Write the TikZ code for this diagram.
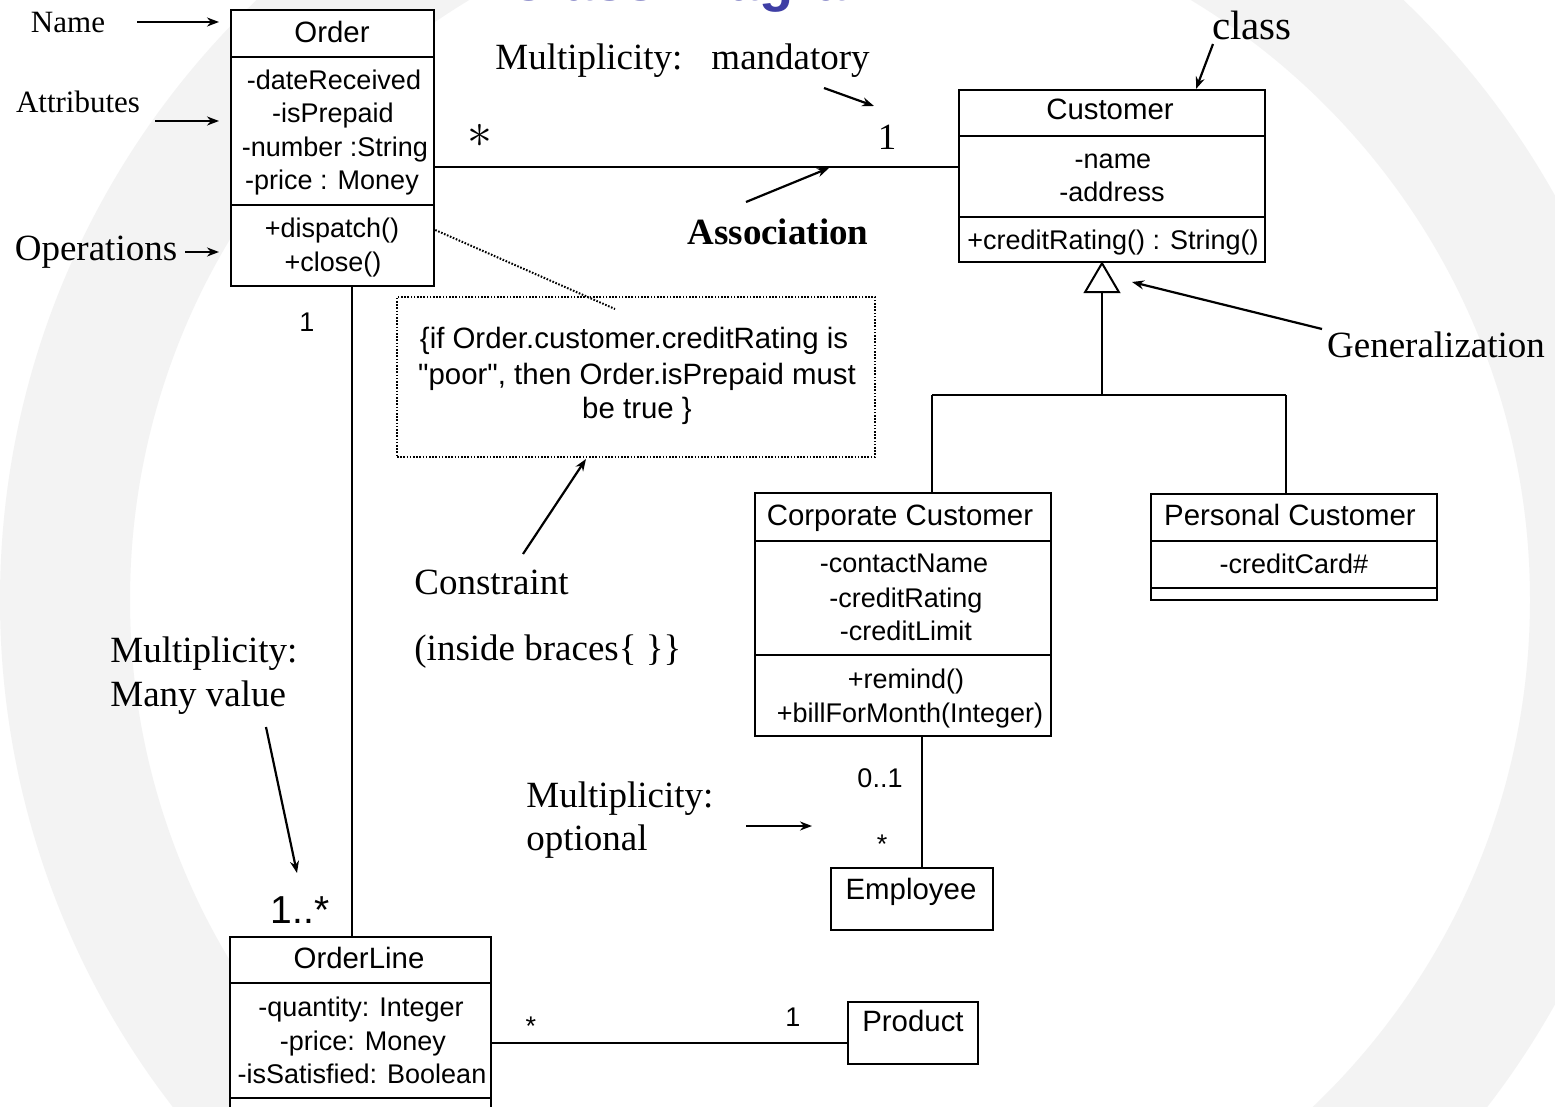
\documentclass[tikz,border=0pt]{standalone}
\usepackage{fontspec}
\setmainfont{Liberation Serif}
\setsansfont{Liberation Sans}
\usetikzlibrary{arrows.meta}

\definecolor{titleblue}{RGB}{62,62,165}
\definecolor{swirl}{RGB}{243,243,243}

\begin{document}
\begin{tikzpicture}[x=0.5pt,y=-0.5pt,
  classbox/.style={draw, line width=1.25pt, fill=white, inner sep=0pt},
  notebox/.style={draw, line width=1pt, dash pattern=on 0.8pt off 0.8pt, inner sep=0pt},
  sep/.style={line width=1.4pt},
  link/.style={line width=1pt},
  dotlink/.style={line width=1pt, dash pattern=on 0.8pt off 0.8pt},
  ptr/.style={line width=1.1pt, -{Stealth[length=6pt,width=4.5pt]}},
  sf/.style={font=\sffamily\fontsize{13.5}{16}\selectfont, inner sep=0pt, anchor=base},
  sfname/.style={sf, font=\sffamily\fontsize{14.7}{17}\selectfont},
  rm/.style={font=\fontsize{18.5}{22}\selectfont, inner sep=0pt, anchor=base},
  rmsmall/.style={font=\fontsize{15.5}{18}\selectfont, inner sep=0pt, anchor=base},
  title/.style={font=\sffamily\bfseries\fontsize{28}{32}\selectfont, text=titleblue, inner sep=0pt, anchor=base west}]

\useasboundingbox (0,0) rectangle (1555,1107);
\clip (0,0) rectangle (1555,1107);
\fill[white] (0,0) rectangle (1555,1107);

% faint swirl of the slide background
\fill[swirl, even odd rule] (830,600) circle[radius=830] (830,600) circle[radius=700];

% slide title, only its lowest part lies on the page
\node[title] (title) at (507,1) {Class Diagram};

% ---------- class boxes ----------
\node[classbox, minimum width=101.5pt, minimum height=138pt] (Order) at (332.5,148) {};
\draw[sep] (231,57) -- (434,57);
\draw[sep] (231,205) -- (434,205);

\node[classbox, minimum width=153pt, minimum height=86pt] (Customer) at (1112,176) {};
\draw[sep] (959,136) -- (1265,136);
\draw[sep] (959,217) -- (1265,217);

\node[classbox, minimum width=148pt, minimum height=121.5pt] (Corporate) at (903,614.5) {};
\draw[sep] (755,541) -- (1051,541);
\draw[sep] (755,655) -- (1051,655);

\node[classbox, minimum width=143pt, minimum height=53pt] (Personal) at (1294,547) {};
\draw[sep] (1151,541) -- (1437,541);
\draw[sep] (1151,588) -- (1437,588);

\node[classbox, minimum width=81pt, minimum height=31pt] (Employee) at (912,899) {};
\node[classbox, minimum width=65pt, minimum height=31pt] (Product) at (913,1033) {};

\node[classbox, minimum width=130.5pt, minimum height=96.5pt] (OrderLine) at (360.5,1033.5) {};
\draw[sep] (230,983) -- (491,983);
\draw[sep] (230,1098) -- (491,1098);

\node[notebox, minimum width=239pt, minimum height=80pt] (Note) at (636,377) {};

% ---------- class texts ----------
\node[sfname] (tOrder) at (332,43) {Order};
\node[sf] (oA1) at (334,90) {-dateReceived};
\node[sf] (oA2) at (333,123) {-isPrepaid};
\node[sf] (oA3) at (335,157) {-number :String};
\node[sf] (oA4) at (332,190) {-price : Money};
\node[sf] (oP1) at (332,238) {+dispatch()};
\node[sf] (oP2) at (333,272) {+close()};

\node[sfname] (tCustomer) at (1110,120) {Customer};
\node[sf] (cA1) at (1113,169) {-name};
\node[sf] (cA2) at (1112,202) {-address};
\node[sf] (cP1) at (1113,250) {+creditRating() : String()};

\node[sfname] (tCorporate) at (900,525) {Corporate Customer};
\node[sf] (kA1) at (904,573) {-contactName};
\node[sf] (kA2) at (906,607) {-creditRating};
\node[sf] (kA3) at (906,640) {-creditLimit};
\node[sf] (kP1) at (906,689) {+remind()};
\node[sf] (kP2) at (910,722) {+billForMonth(Integer)};

\node[sfname] (tPersonal) at (1290,525) {Personal Customer};
\node[sf] (pA1) at (1294,574) {-creditCard\#};

\node[sfname] (tEmployee) at (911,899) {Employee};
\node[sfname] (tProduct) at (913,1031) {Product};

\node[sfname] (tOrderLine) at (359,968) {OrderLine};
\node[sf] (lA1) at (361,1016) {-quantity: Integer};
\node[sf] (lA2) at (363,1050) {-price: Money};
\node[sf] (lA3) at (362,1083) {-isSatisfied: Boolean};

\node[sfname] (nL1) at (634,349) {\{if Order.customer.creditRating is};
\node[sfname] (nL2) at (637,385) {\textquotedbl poor\textquotedbl, then Order.isPrepaid must};
\node[sfname] (nL3) at (637,419) {be true \}};

% ---------- connectors ----------
\coordinate (asY) at (0,167);
\draw[link] (Order.east |- asY) -- (Customer.west |- asY);

\coordinate (olX) at (352,0);
\draw[link] (Order.south -| olX) -- (OrderLine.north -| olX);

\coordinate (prY) at (0,1043);
\draw[link] (OrderLine.east |- prY) -- (Product.west |- prY);

\coordinate (emX) at (922,0);
\draw[link] (Corporate.south -| emX) -- (Employee.north -| emX);

% generalization tree
\coordinate (gX) at (1102,0);
\coordinate (gBase) at (1102,291);
\coordinate (fork) at (1102,395);
\coordinate (ccX) at (932,0);
\coordinate (pcX) at (1286,0);
\draw[link, fill=white, line join=miter] (Customer.south -| gX) -- ++(-17,29) -- ++(34,0) -- cycle;
\draw[link] (gBase) -- (fork);
\draw[link] (fork -| ccX) -- (fork -| pcX);
\draw[link] (fork -| ccX) -- (Corporate.north -| ccX);
\draw[link] (fork -| pcX) -- (Personal.north -| pcX);

% constraint attachment
\coordinate (ntY) at (0,230);
\coordinate (ntEnd) at (615,309);
\draw[dotlink] (Order.east |- ntY) -- (ntEnd);

% ---------- multiplicities ----------
\node[rm, font=\fontsize{30}{32}\selectfont] (mStar) at (480,148) {$\ast$};
\node[rm] (mOne) at (887,150) {1};
\node[sf] (mOrd1) at (307,332) {1};
\node[sf, font=\sffamily\fontsize{19.5}{22}\selectfont] (mMany) at (300,923) {1..*};
\node[sf] (mOpt) at (880,787) {0..1};
\node[sf] (mEmp) at (882,853) {*};
\node[sf] (mLine) at (531,1035) {*};
\node[sf] (mProd) at (793,1026) {1};

% ---------- annotations ----------
\node[rmsmall] (lName) at (68,33) {Name};
\node[rmsmall] (lAttr) at (78,113) {Attributes};
\node[rm] (lOps) at (96,261) {Operations};
\node[rm, anchor=base west] (lMand) at (495,70) {Multiplicity:\hspace{14.5pt}mandatory};
\node[rm, font=\bfseries\fontsize{18.5}{22}\selectfont] (lAssoc) at (778,245) {Association};
\node[rm, font=\fontsize{20.5}{24}\selectfont] (lClass) at (1252,40) {class};
\node[rm] (lGen) at (1436,358) {Generalization};
\node[rm, anchor=base west] (lCons) at (414,595) {Constraint};
\node[rm, anchor=base west] (lBraces) at (414,661) {(inside braces\{ \}\}};
\node[rm, anchor=base west] (lMany1) at (110,662) {Multiplicity:};
\node[rm, anchor=base west] (lMany2) at (110,706) {Many value};
\node[rm, anchor=base west] (lOpt1) at (526,807) {Multiplicity:};
\node[rm, anchor=base west] (lOpt2) at (526,850) {optional};

% pointer arrows
\coordinate (pNameS) at (137,22);  \coordinate (pNameE) at (219,22);
\coordinate (pAttrS) at (155,121); \coordinate (pAttrE) at (219,121);
\coordinate (pOpsS) at (185,252);  \coordinate (pOpsE) at (219,252);
\coordinate (pMandS) at (824,88);  \coordinate (pMandE) at (874,106);
\coordinate (pAssS) at (746,202);  \coordinate (pAssE) at (829,168);
\coordinate (pClsS) at (1213,44);  \coordinate (pClsE) at (1196,89);
\coordinate (pGenS) at (1322,329); \coordinate (pGenE) at (1132,282);
\coordinate (pConS) at (523,554);  \coordinate (pConE) at (586,459);
\coordinate (pManyS) at (266,727); \coordinate (pManyE) at (297,873);
\coordinate (pOptS) at (746,826);  \coordinate (pOptE) at (812,826);
\draw[ptr] (pNameS) -- (pNameE);
\draw[ptr] (pAttrS) -- (pAttrE);
\draw[ptr] (pOpsS) -- (pOpsE);
\draw[ptr] (pMandS) -- (pMandE);
\draw[ptr] (pAssS) -- (pAssE);
\draw[ptr] (pClsS) -- (pClsE);
\draw[ptr] (pGenS) -- (pGenE);
\draw[ptr] (pConS) -- (pConE);
\draw[ptr] (pManyS) -- (pManyE);
\draw[ptr] (pOptS) -- (pOptE);

\end{tikzpicture}
\end{document}
